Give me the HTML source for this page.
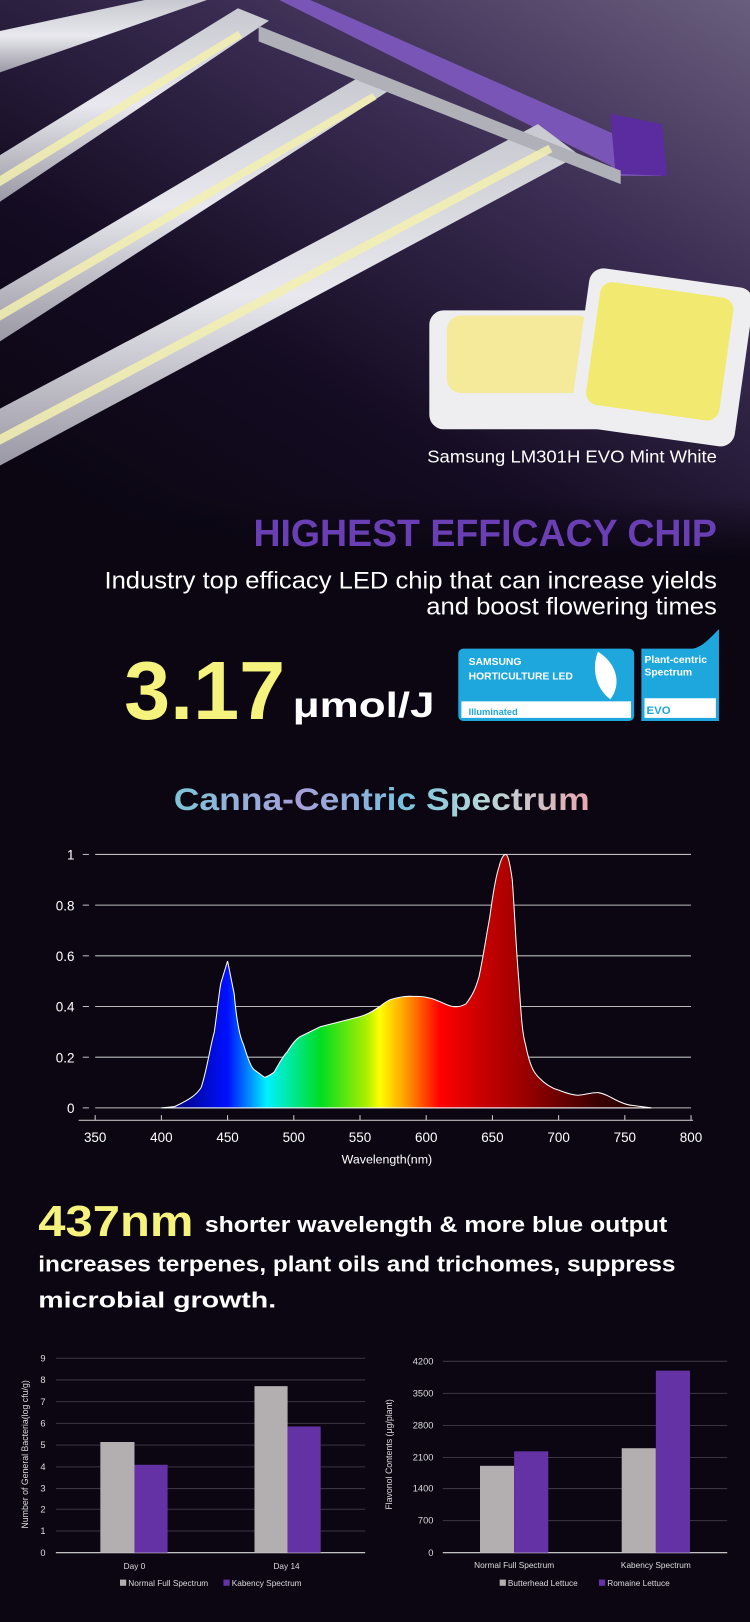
<!DOCTYPE html>
<html><head><meta charset="utf-8"><style>
html,body{margin:0;padding:0;background:#0b0612;}
svg{display:block}
text{font-family:"Liberation Sans",sans-serif}
</style></head><body>
<svg width="750" height="1622" viewBox="0 0 725 1568" preserveAspectRatio="none" xmlns="http://www.w3.org/2000/svg">
<defs>
<linearGradient id="bg" x1="1" y1="0" x2="0.2" y2="1">
<stop offset="0" stop-color="#6a5e7e"/><stop offset="0.35" stop-color="#3a2c52"/><stop offset="0.7" stop-color="#140c22"/><stop offset="1" stop-color="#0b0612"/>
</linearGradient>
<linearGradient id="fade" x1="0" y1="0" x2="0" y2="1">
<stop offset="0" stop-color="#0b0612" stop-opacity="0"/><stop offset="1" stop-color="#0b0612"/>
</linearGradient>
<linearGradient id="bar" x1="0" y1="0" x2="0" y2="1">
<stop offset="0" stop-color="#c8c8d0"/><stop offset="0.5" stop-color="#e8e8ee"/><stop offset="1" stop-color="#9a98a4"/>
</linearGradient>
<linearGradient id="spec" gradientUnits="userSpaceOnUse" x1="156" y1="0" x2="630" y2="0">
<stop offset="0" stop-color="#000060"/><stop offset="0.135" stop-color="#0010ff"/><stop offset="0.215" stop-color="#00f0ff"/><stop offset="0.325" stop-color="#00dd22"/><stop offset="0.418" stop-color="#aaee00"/><stop offset="0.445" stop-color="#ffff00"/><stop offset="0.5" stop-color="#ff9900"/><stop offset="0.568" stop-color="#ff0000"/><stop offset="0.648" stop-color="#cc0000"/><stop offset="0.743" stop-color="#990000"/><stop offset="0.89" stop-color="#3a0000"/><stop offset="1" stop-color="#200000"/>
</linearGradient>
<linearGradient id="ttl" x1="0" y1="0" x2="1" y2="0">
<stop offset="0" stop-color="#7ec4d8"/><stop offset="0.3" stop-color="#a79ed8"/><stop offset="0.55" stop-color="#78c0dc"/><stop offset="0.75" stop-color="#b8d8d8"/><stop offset="1" stop-color="#e8a8b0"/>
</linearGradient>
</defs>
<rect width="725" height="1568" fill="#0b0612"/>
<rect width="725" height="540" fill="url(#bg)"/>
<polygon points="270,0 300,0 640,150 640,170 600,170 590,160" fill="#7a55b8"/>
<polygon points="590,110 640,120 645,170 595,168" fill="#5a2ca0"/>
<polygon points="0,30 140,0 200,0 0,70" fill="url(#bar)"/>
<polygon points="0,150 230,8 260,20 0,195" fill="url(#bar)"/>
<polygon points="0,280 355,70 380,85 0,330" fill="url(#bar)"/>
<polygon points="0,395 520,120 560,150 0,450" fill="url(#bar)"/>
<polygon points="250,25 600,165 600,178 250,40" fill="#b0b0b8"/>
<g fill="#f4f0b0" opacity="0.85">
<polygon points="0,170 230,30 234,36 0,180"/>
<polygon points="0,300 360,90 364,96 0,310"/>
<polygon points="0,420 530,140 534,147 0,430"/>
</g>
<g>
<rect x="415" y="300" width="175" height="115" rx="14" fill="#eeeef0"/>
<rect x="432" y="305" width="140" height="75" rx="14" fill="#f4ea9a"/>
<rect x="560" y="268" width="160" height="155" rx="14" fill="#eeeef0" transform="rotate(8 640 345)"/>
<rect x="572" y="280" width="130" height="120" rx="12" fill="#f2ea70" transform="rotate(8 640 345)"/>
</g>
<text x="413" y="447" fill="#fff" font-size="17" textLength="280" lengthAdjust="spacingAndGlyphs">Samsung LM301H EVO Mint White</text>
<rect y="480" width="725" height="60" fill="url(#fade)"/>
<text x="245" y="528" fill="#6b3fb4" font-size="37" font-weight="bold" textLength="448" lengthAdjust="spacingAndGlyphs">HIGHEST EFFICACY CHIP</text>
<text x="101" y="569" fill="#fff" font-size="23" textLength="592" lengthAdjust="spacingAndGlyphs">Industry top efficacy LED chip that can increase yields</text>
<text x="412" y="594" fill="#fff" font-size="23" textLength="281" lengthAdjust="spacingAndGlyphs">and boost flowering times</text>
<text x="120" y="695" fill="#f6f27e" font-size="80" font-weight="bold">3.17</text>
<text x="283" y="693" fill="#fff" font-size="34" font-weight="bold" textLength="137" lengthAdjust="spacingAndGlyphs">μmol/J</text>
<rect x="443" y="627" width="170" height="70" rx="5" fill="#1ea7dd"/>
<rect x="446" y="678" width="164" height="16" fill="#fff"/>
<text x="453" y="643" fill="#fff" font-size="10" font-weight="bold">SAMSUNG</text>
<text x="453" y="657" fill="#fff" font-size="10" font-weight="bold">HORTICULTURE LED</text>
<text x="453" y="691" fill="#1ea7dd" font-size="9" font-weight="bold">Illuminated</text>
<path d="M578,630 C595,640 602,660 590,676 C575,665 572,645 578,630Z" fill="#fff"/>
<path d="M620,627 H670 C680,625 688,615 695,608 V697 H620Z" fill="#1ea7dd"/>
<rect x="623" y="675" width="69" height="19" fill="#fff"/>
<text x="623" y="641" fill="#fff" font-size="10" font-weight="bold">Plant-centric</text>
<text x="623" y="653" fill="#fff" font-size="10" font-weight="bold">Spectrum</text>
<text x="625" y="690" fill="#1ea7dd" font-size="11" font-weight="bold">EVO</text>
<text x="168" y="783" fill="url(#ttl)" font-size="30" font-weight="bold" textLength="402" lengthAdjust="spacingAndGlyphs">Canna-Centric Spectrum</text>
<g stroke="#bbb" stroke-width="1">
<line x1="92" y1="826" x2="668" y2="826"/><line x1="92" y1="875" x2="668" y2="875"/><line x1="92" y1="924" x2="668" y2="924"/><line x1="92" y1="973" x2="668" y2="973"/><line x1="92" y1="1022" x2="668" y2="1022"/><line x1="92" y1="1071" x2="668" y2="1071"/>
<line x1="80" y1="826" x2="86" y2="826"/><line x1="80" y1="875" x2="86" y2="875"/><line x1="80" y1="924" x2="86" y2="924"/><line x1="80" y1="973" x2="86" y2="973"/><line x1="80" y1="1022" x2="86" y2="1022"/><line x1="80" y1="1071" x2="86" y2="1071"/>
<line x1="76" y1="1083" x2="670" y2="1083"/>
</g>
<g fill="#fff" font-size="13" text-anchor="end">
<text x="72" y="831">1</text><text x="72" y="880">0.8</text><text x="72" y="929">0.6</text><text x="72" y="978">0.4</text><text x="72" y="1027">0.2</text><text x="72" y="1076">0</text>
</g>
<g stroke="#ccc"><line x1="92" y1="1078" x2="92" y2="1083"/><line x1="156" y1="1078" x2="156" y2="1083"/><line x1="220" y1="1078" x2="220" y2="1083"/><line x1="284" y1="1078" x2="284" y2="1083"/><line x1="348" y1="1078" x2="348" y2="1083"/><line x1="412" y1="1078" x2="412" y2="1083"/><line x1="476" y1="1078" x2="476" y2="1083"/><line x1="540" y1="1078" x2="540" y2="1083"/><line x1="604" y1="1078" x2="604" y2="1083"/><line x1="668" y1="1078" x2="668" y2="1083"/></g>
<g fill="#fff" font-size="13" text-anchor="middle">
<text x="92" y="1104">350</text><text x="156" y="1104">400</text><text x="220" y="1104">450</text><text x="284" y="1104">500</text><text x="348" y="1104">550</text><text x="412" y="1104">600</text><text x="476" y="1104">650</text><text x="540" y="1104">700</text><text x="604" y="1104">750</text><text x="668" y="1104">800</text>
<text x="374" y="1125" font-size="12">Wavelength(nm)</text>
</g>
<path d="M156,1071 L168.8,1069.8 C185,1062 190,1058 194.4,1051.4 C200,1035 203,1012 207.2,997.5 C211,970 212,957 213.6,950 L220,929 L226.4,961 C229,990 232,1003 235.4,1009.7 C240,1025 243,1032 245.6,1034 L255.8,1041.6 C260,1040 263,1038 264.8,1036.7 C270,1028 274,1020 277.6,1017 C283,1008 287,1004 290.4,1002 L309.6,992.6 L348,982.8 C358,980 362,976 367.2,973 C372,969 376,966 380,965.6 C390,963 394,963 399.2,963.2 C408,963 412,964 418.4,965.6 C428,969 432,972 437.6,973 C444,974 447,972 450.4,970.5 C457,962 460,955 463.2,943.6 C468,920 470,905 473.4,887 C477,860 480,845 482.4,838 C485,828 487,826 488.8,826 C491,826 493,835 495.2,850.5 C498,890 499,920 501.6,948.5 C504,985 505,1000 508,1009.7 C512,1030 516,1037 520.8,1041.6 C527,1048 533,1052 540,1053.8 C548,1057 553,1058.5 559.2,1058.8 C567,1058 572,1056 578.4,1056.3 C584,1057 587,1059 591.2,1061.2 C600,1066 605,1068 610.4,1068.5 L629.6,1071 Z" fill="url(#spec)" stroke="#fff" stroke-width="1"/>
<text x="37" y="1195" fill="#f6f27e" font-size="42" font-weight="bold" textLength="150" lengthAdjust="spacingAndGlyphs">437nm</text>
<text x="198" y="1191" fill="#fff" font-size="21" font-weight="bold" textLength="447" lengthAdjust="spacingAndGlyphs">shorter wavelength &amp; more blue output</text>
<text x="37" y="1229" fill="#fff" font-size="21" font-weight="bold" textLength="616" lengthAdjust="spacingAndGlyphs">increases terpenes, plant oils and trichomes, suppress</text>
<text x="37" y="1264" fill="#fff" font-size="21" font-weight="bold" textLength="230" lengthAdjust="spacingAndGlyphs">microbial growth.</text>
<g stroke="#3a3444" stroke-width="1">
<line x1="54" y1="1313" x2="353" y2="1313"/><line x1="54" y1="1334" x2="353" y2="1334"/><line x1="54" y1="1355" x2="353" y2="1355"/><line x1="54" y1="1376" x2="353" y2="1376"/><line x1="54" y1="1397" x2="353" y2="1397"/><line x1="54" y1="1418" x2="353" y2="1418"/><line x1="54" y1="1439" x2="353" y2="1439"/><line x1="54" y1="1459" x2="353" y2="1459"/><line x1="54" y1="1480" x2="353" y2="1480"/>
</g>
<line x1="54" y1="1501" x2="353" y2="1501" stroke="#ddd"/>
<g fill="#ddd" font-size="9" text-anchor="end">
<text x="44" y="1316">9</text><text x="44" y="1337">8</text><text x="44" y="1358">7</text><text x="44" y="1379">6</text><text x="44" y="1400">5</text><text x="44" y="1421">4</text><text x="44" y="1442">3</text><text x="44" y="1462">2</text><text x="44" y="1483">1</text><text x="44" y="1504">0</text>
</g>
<rect x="97" y="1394" width="33" height="107" fill="#b3afb0"/>
<rect x="130" y="1416" width="32" height="85" fill="#6432a4"/>
<rect x="246" y="1340" width="32" height="161" fill="#b3afb0"/>
<rect x="278" y="1379" width="32" height="122" fill="#6432a4"/>
<g fill="#ddd" font-size="8" text-anchor="middle">
<text x="130" y="1517">Day 0</text><text x="277" y="1517">Day 14</text>
</g>
<text x="27" y="1406" fill="#ddd" font-size="8.5" text-anchor="middle" transform="rotate(-90 27 1406)">Number of General Bacteria(log cfu/g)</text>
<rect x="116" y="1527" width="6" height="6" fill="#b3afb0"/><text x="124" y="1533" fill="#ddd" font-size="8">Normal Full Spectrum</text>
<rect x="216" y="1527" width="6" height="6" fill="#6432a4"/><text x="224" y="1533" fill="#ddd" font-size="8">Kabency Spectrum</text>
<g stroke="#3a3444" stroke-width="1">
<line x1="428" y1="1316" x2="703" y2="1316"/><line x1="428" y1="1347" x2="703" y2="1347"/><line x1="428" y1="1378" x2="703" y2="1378"/><line x1="428" y1="1409" x2="703" y2="1409"/><line x1="428" y1="1439" x2="703" y2="1439"/><line x1="428" y1="1470" x2="703" y2="1470"/>
</g>
<line x1="428" y1="1501" x2="703" y2="1501" stroke="#ddd"/>
<g fill="#ddd" font-size="9" text-anchor="end">
<text x="419" y="1319">4200</text><text x="419" y="1350">3500</text><text x="419" y="1381">2800</text><text x="419" y="1412">2100</text><text x="419" y="1442">1400</text><text x="419" y="1473">700</text><text x="419" y="1504">0</text>
</g>
<rect x="464" y="1417" width="33" height="84" fill="#b3afb0"/>
<rect x="497" y="1403" width="33" height="98" fill="#6432a4"/>
<rect x="601" y="1400" width="33" height="101" fill="#b3afb0"/>
<rect x="634" y="1325" width="33" height="176" fill="#6432a4"/>
<g fill="#ddd" font-size="8" text-anchor="middle">
<text x="497" y="1516">Normal Full Spectrum</text><text x="634" y="1516">Kabency Spectrum</text>
</g>
<text x="379" y="1406" fill="#ddd" font-size="8.5" text-anchor="middle" transform="rotate(-90 379 1406)">Flavonol Contents (μg/plant)</text>
<rect x="483" y="1527" width="6" height="6" fill="#b3afb0"/><text x="491" y="1533" fill="#ddd" font-size="8">Butterhead Lettuce</text>
<rect x="579" y="1527" width="6" height="6" fill="#6432a4"/><text x="587" y="1533" fill="#ddd" font-size="8">Romaine Lettuce</text>
</svg>
</body></html>
